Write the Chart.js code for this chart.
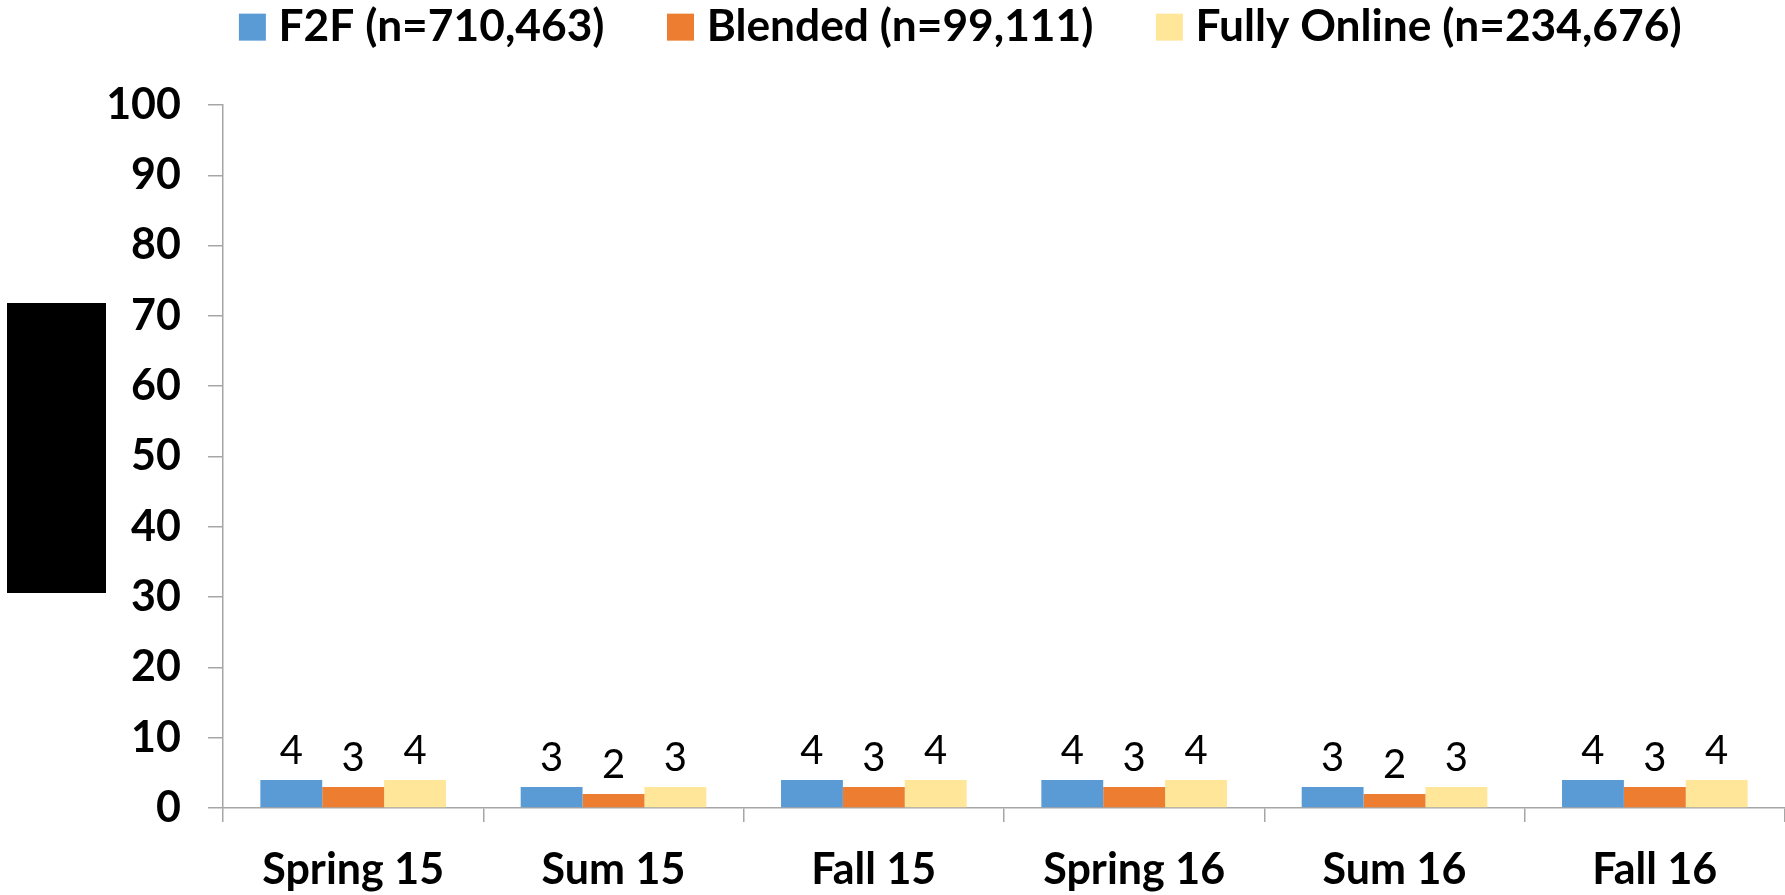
<!DOCTYPE html>
<html>
<head>
<meta charset="utf-8">
<script src="https://cdn.jsdelivr.net/npm/chart.js@4.4.1/dist/chart.umd.min.js"></script>
<style>
  html, body { margin: 0; padding: 0; background: #fff; }
  #wrap { position: relative; width: 1785px; height: 895px; }
  #redact { position: absolute; left: 7px; top: 303px; width: 99px; height: 290px; background: #000; }
</style>
</head>
<body>
<div id="wrap">
  <canvas id="termChart" width="1785" height="895"></canvas>
  <div id="redact"></div>
</div>
<script>
// chart data
var terms = ['Spring 15', 'Sum 15', 'Fall 15', 'Spring 16', 'Sum 16', 'Fall 16'];
var f2fValues = [4, 3, 4, 4, 3, 4];
var blendedValues = [3, 2, 3, 3, 2, 3];
var onlineValues = [4, 3, 4, 4, 3, 4];
var seriesNames = ['F2F (n=710,463)', 'Blended (n=99,111)', 'Fully Online (n=234,676)'];
var seriesColors = ['#5b9bd5', '#ed7d31', '#ffe699'];

var axisGray = '#a6a6a6';
var legendPad = 72;

Chart.defaults.font.family = 'Lato';
Chart.defaults.color = '#000';

// numbers above the bars
var barValueLabels = {
  id: 'barValueLabels',
  afterDatasetsDraw: function (chart) {
    var ctx = chart.ctx;
    ctx.save();
    ctx.font = '40px Lato';
    ctx.fillStyle = '#000';
    ctx.textAlign = 'center';
    ctx.textBaseline = 'alphabetic';
    chart.data.datasets.forEach(function (ds, i) {
      chart.getDatasetMeta(i).data.forEach(function (bar, j) {
        ctx.fillText(ds.data[j], bar.x, bar.y - 16);
      });
    });
    ctx.restore();
  }
};

// legend is centred over the plot, wide gaps, close to the top edge
var legendShift = {
  id: 'legendShift',
  afterLayout: function (chart) {
    chart.legend.left = 145;
    chart.legend.top = 5 - legendPad;
  }
};

var ctx = document.getElementById('termChart').getContext('2d');

new Chart(ctx, {
  type: 'bar',
  data: {
    labels: terms,
    datasets: [
      { label: seriesNames[0], data: f2fValues, backgroundColor: seriesColors[0], borderWidth: 0 },
      { label: seriesNames[1], data: blendedValues, backgroundColor: seriesColors[1], borderWidth: 0 },
      { label: seriesNames[2], data: onlineValues, backgroundColor: seriesColors[2], borderWidth: 0 }
    ]
  },
  options: {
    responsive: false,
    animation: false,
    layout: { padding: 0 },
    datasets: {
      bar: { categoryPercentage: 0.713, barPercentage: 1.0 }
    },
    plugins: {
      tooltip: { enabled: false },
      legend: {
        position: 'top',
        maxHeight: 105,
        labels: {
          usePointStyle: true,
          pointStyle: 'rect',
          boxWidth: 8,
          boxHeight: 27,
          padding: legendPad,
          color: '#000',
          font: { size: 44.3, weight: 'bold' }
        }
      }
    },
    scales: {
      x: {
        grid: { drawOnChartArea: false, color: axisGray, lineWidth: 1.5, tickLength: 14, offset: true },
        border: { color: axisGray, width: 1.5 },
        ticks: { padding: 22, maxRotation: 0, autoSkip: false, color: '#000', font: { size: 43, weight: 'bold' } },
        afterFit: function (scale) { scale.height = 87; }
      },
      y: {
        min: 0,
        max: 100,
        grid: { drawOnChartArea: false, color: axisGray, lineWidth: 1.5, tickLength: 15 },
        border: { color: axisGray, width: 1.5 },
        ticks: { stepSize: 10, padding: 27, color: '#000', font: { size: 43, weight: 'bold' } },
        afterFit: function (scale) { scale.width = 223; }
      }
    }
  },
  plugins: [barValueLabels, legendShift]
});
</script>
</body>
</html>
